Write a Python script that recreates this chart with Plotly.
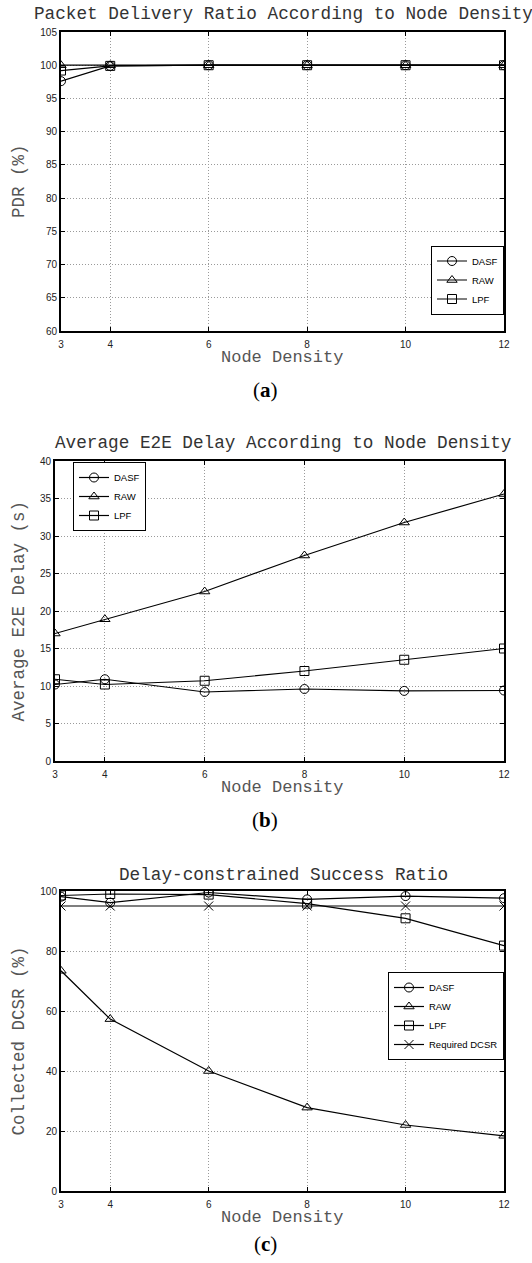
import plotly.graph_objects as go

node_density = [3, 4, 6, 8, 10, 12]

pdr_dasf = [97.6, 99.9, 100, 100, 100, 100]
pdr_raw = [100, 100, 100, 100, 100, 100]
pdr_lpf = [99.2, 99.9, 100, 100, 100, 100]

delay_dasf = [10.2, 10.9, 9.2, 9.6, 9.35, 9.4]
delay_raw = [17.0, 18.9, 22.6, 27.4, 31.8, 35.6]
delay_lpf = [10.9, 10.2, 10.7, 12.0, 13.5, 15.0]

dcsr_dasf = [98.1, 96.1, 99.5, 97.2, 98.3, 97.6]
dcsr_raw = [73.4, 57.3, 40.0, 27.8, 22.0, 18.4]
dcsr_lpf = [98.5, 99.0, 98.8, 95.8, 90.9, 81.8]
dcsr_required = [95, 95, 95, 95, 95, 95]

x_ticks = [3, 4, 6, 8, 10, 12]

W, H = 532, 1263
def px(x):
    return x / W
def py(y):
    return 1 - y / H

MONO = "Liberation Mono, Courier New, monospace"
SANS = "Liberation Sans, Arial, sans-serif"
SERIF = "Liberation Serif, DejaVu Serif, serif"

fig = go.Figure()

def add(x, y, name, symbol, xa, ya, legend):
    fig.add_trace(go.Scatter(
        x=x, y=y, name=name, mode="lines+markers",
        xaxis=xa, yaxis=ya, legend=legend,
        line=dict(color="black", width=1.2),
        marker=dict(symbol=symbol, size=9, color="black",
                    line=dict(color="black", width=1)),
    ))

add(node_density, pdr_dasf, "DASF", "circle-open", "x", "y", "legend")
add(node_density, pdr_raw, "RAW", "triangle-up-open", "x", "y", "legend")
add(node_density, pdr_lpf, "LPF", "square-open", "x", "y", "legend")

add(node_density, delay_dasf, "DASF", "circle-open", "x2", "y2", "legend2")
add(node_density, delay_raw, "RAW", "triangle-up-open", "x2", "y2", "legend2")
add(node_density, delay_lpf, "LPF", "square-open", "x2", "y2", "legend2")

add(node_density, dcsr_dasf, "DASF", "circle-open", "x3", "y3", "legend3")
add(node_density, dcsr_raw, "RAW", "triangle-up-open", "x3", "y3", "legend3")
add(node_density, dcsr_lpf, "LPF", "square-open", "x3", "y3", "legend3")
add(node_density, dcsr_required, "Required DCSR", "x-thin-open", "x3", "y3", "legend3")

axis_common = dict(
    showline=True, linecolor="black", linewidth=2, mirror="ticks",
    ticks="inside", ticklen=4, tickcolor="black", tickwidth=1,
    showgrid=True, gridcolor="#9a9a9a", griddash="1px,2px", gridwidth=1,
    zeroline=False, automargin=False,
    tickfont=dict(family=SANS, size=10, color="#222"),
)

panels = [
    # (left px, top px, bottom px, y range, y dtick)
    (61, 32, 331, [60, 105], 5),
    (55, 461, 761, [0, 40], 5),
    (61, 891, 1191, [0, 100], 20),
]
right_px = 504

for i, (lp, tp, bp, yr, dt) in enumerate(panels):
    sfx = "" if i == 0 else str(i + 1)
    fig.layout["xaxis" + sfx] = dict(
        axis_common, domain=[px(lp), px(right_px)], range=[3, 12],
        tickvals=x_ticks, anchor="y" + sfx, ticklabelstandoff=3,
    )
    fig.layout["yaxis" + sfx] = dict(
        axis_common, domain=[py(bp), py(tp)], range=yr, dtick=dt,
        tick0=0, anchor="x" + sfx,
    )

legend_common = dict(
    bgcolor="white", bordercolor="black", borderwidth=1,
    font=dict(family=SANS, size=9.5, color="black"),
    tracegroupgap=0, itemwidth=30,
)
fig.update_layout(
    legend=dict(legend_common, x=px(504), y=py(280), xanchor="right", yanchor="middle"),
    legend2=dict(legend_common, x=px(73), y=py(462), xanchor="left", yanchor="top"),
    legend3=dict(legend_common, x=px(504), y=py(1016), xanchor="right", yanchor="middle"),
)

titles = [
    ("Packet Delivery Ratio According to Node Density", 14, "PDR (%)", 181.5, 357, "(<b>a</b>)", 390),
    ("Average E2E Delay According to Node Density", 443, "Average E2E Delay (s)", 611, 787, "(<b>b</b>)", 820),
    ("Delay-constrained Success Ratio", 875, "Collected DCSR (%)", 1041, 1217, "(<b>c</b>)", 1244),
]
anns = []
for t, ty, yt, yty, xty, lab, laby in titles:
    anns.append(dict(text=t, x=px(283), y=py(ty), xref="paper", yref="paper",
                     showarrow=False, xanchor="center", yanchor="middle",
                     font=dict(family=MONO, size=17.7, color="#333")))
    anns.append(dict(text=yt, x=px(18.5), y=py(yty), xref="paper", yref="paper",
                     showarrow=False, xanchor="center", yanchor="middle", textangle=-90,
                     font=dict(family=MONO, size=17.5, color="#555")))
    anns.append(dict(text="Node Density", x=px(282), y=py(xty), xref="paper", yref="paper",
                     showarrow=False, xanchor="center", yanchor="middle",
                     font=dict(family=MONO, size=17, color="#555")))
    anns.append(dict(text=lab, x=px(265), y=py(laby), xref="paper", yref="paper",
                     showarrow=False, xanchor="center", yanchor="middle",
                     font=dict(family=SERIF, size=21, color="black")))

fig.update_layout(
    width=W, height=H,
    margin=dict(l=0, r=0, t=0, b=0, autoexpand=False),
    paper_bgcolor="white", plot_bgcolor="white",
    annotations=anns, showlegend=True,
)

fig.write_html("out.html")
